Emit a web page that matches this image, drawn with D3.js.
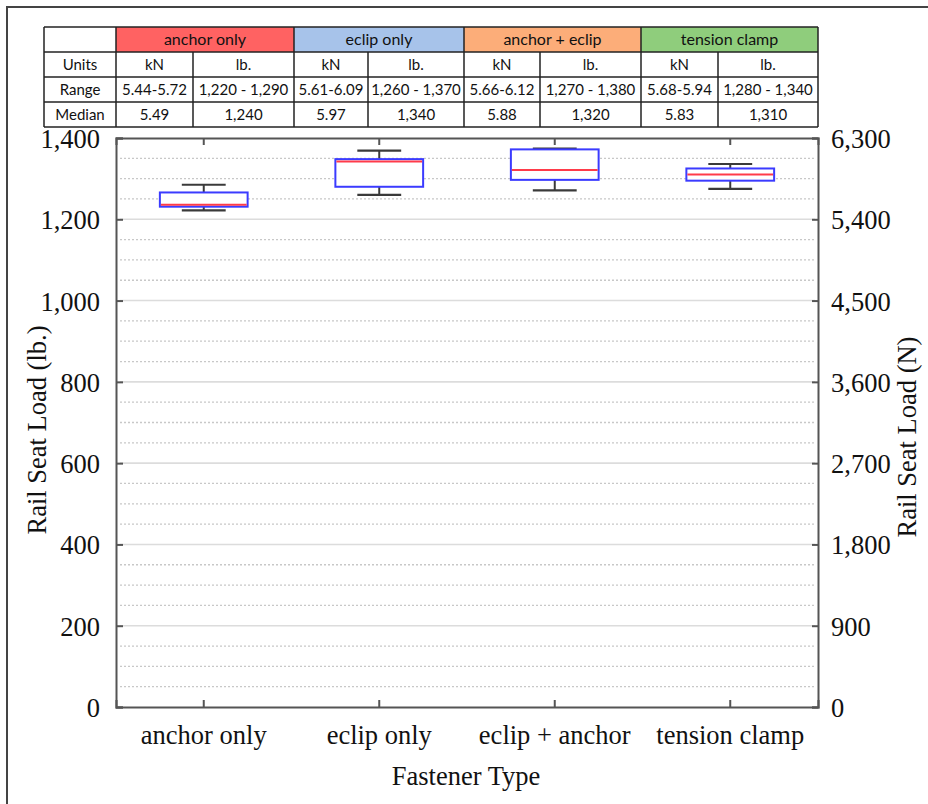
<!DOCTYPE html>
<html>
<head>
<meta charset="utf-8">
<script src="https://cdn.jsdelivr.net/npm/d3@7"></script>
<style>
  body { margin: 0; background: #fff; }
  svg { display: block; }
</style>
</head>
<body>
<svg id="chart" width="928" height="804"></svg>
<script>
// ---------- data ----------
const categories = ["anchor only", "eclip only", "eclip + anchor", "tension clamp"];
const whiskerLow  = [1222, 1260, 1271, 1275];
const q1          = [1231, 1280, 1297, 1295];
const median      = [1236, 1342, 1321, 1310];
const q3          = [1266, 1348, 1372, 1325];
const whiskerHigh = [1285, 1369, 1374, 1336];

const leftTicks  = [0, 200, 400, 600, 800, 1000, 1200, 1400];
const minorTicks = [50, 100, 150, 250, 300, 350, 450, 500, 550, 650, 700, 750, 850, 900, 950, 1050, 1100, 1150, 1250, 1300, 1350];
const rightTicks = [0, 900, 1800, 2700, 3600, 4500, 5400, 6300];

const tableGroups = ["anchor only", "eclip only", "anchor + eclip", "tension clamp"];
const groupColors = ["#ff6262", "#a7c3ea", "#fcad79", "#8fcd7c"];
const unitLabels  = ["kN", "lb."];
const rangeKN     = ["5.44-5.72", "5.61-6.09", "5.66-6.12", "5.68-5.94"];
const rangeLb     = ["1,220 - 1,290", "1,260 - 1,370", "1,270 - 1,380", "1,280 - 1,340"];
const medianKN    = ["5.49", "5.97", "5.88", "5.83"];
const medianLb    = ["1,240", "1,340", "1,320", "1,310"];

// ---------- layout ----------
const svg = d3.select("#chart");
const L = 116, R = 818, T = 138, B = 707;
const serif = "'Liberation Serif', 'Times New Roman', serif";
const sans = "Lato, 'Open Sans', sans-serif";
const serifSize = "26.5px";

// outer frame
svg.append("rect").attr("x", 7).attr("y", 7).attr("width", 940).attr("height", 820)
  .attr("fill", "none").attr("stroke", "#444").attr("stroke-width", 2);

const x = d3.scaleBand().domain(categories).range([L, R]).padding(0);
const yLb = d3.scaleLinear().domain([0, 1400]).range([B, T]);
const yN = d3.scaleLinear().domain([0, 6300]).range([B, T]);

// gridlines
svg.append("g").selectAll("line").data(minorTicks).join("line")
  .attr("x1", L + 4).attr("x2", R - 3)
  .attr("y1", d => yLb(d)).attr("y2", d => yLb(d))
  .attr("stroke", "#c8c8c8").attr("stroke-width", 1.3).attr("stroke-dasharray", "2,2");
svg.append("g").selectAll("line").data(leftTicks.filter(d => d > 0 && d < 1400)).join("line")
  .attr("x1", L + 4).attr("x2", R - 3)
  .attr("y1", d => yLb(d)).attr("y2", d => yLb(d))
  .attr("stroke", "#dcdcdc").attr("stroke-width", 1.6);

// axes
const axisColor = "#555";
const gL = svg.append("g").attr("transform", `translate(${L},0)`)
  .call(d3.axisLeft(yLb).tickValues(leftTicks).tickSize(-7).tickPadding(16).tickFormat(d3.format(",")));
const gR = svg.append("g").attr("transform", `translate(${R},0)`)
  .call(d3.axisRight(yN).tickValues(rightTicks).tickSize(-6).tickPadding(13).tickFormat(d3.format(",")));
const gB = svg.append("g").attr("transform", `translate(0,${B})`)
  .call(d3.axisBottom(x).tickSize(-7).tickPadding(30));
const gT = svg.append("g").attr("transform", `translate(0,${T})`)
  .call(d3.axisTop(x).tickSize(-7).tickFormat(""));

[gL, gR, gB, gT].forEach(g => {
  g.select(".domain").attr("stroke", axisColor).attr("stroke-width", 2);
  g.selectAll(".tick line").attr("stroke", axisColor).attr("stroke-width", 2);
  g.selectAll(".tick text").attr("fill", "#111").style("font-family", serif).style("font-size", serifSize);
});
gL.selectAll(".tick text").attr("dy", "0.36em");
gR.selectAll(".tick text").attr("dy", "0.36em");
gB.selectAll(".tick text").attr("dy", "0.25em");

// axis titles
svg.append("text").attr("transform", `translate(46,430) rotate(-90)`)
  .attr("text-anchor", "middle").style("font-family", serif).style("font-size", serifSize).attr("fill", "#111")
  .text("Rail Seat Load (lb.)");
svg.append("text").attr("transform", `translate(916,437) rotate(-90)`)
  .attr("text-anchor", "middle").style("font-family", serif).style("font-size", serifSize).attr("fill", "#111")
  .text("Rail Seat Load (N)");
svg.append("text").attr("x", 466).attr("y", 785)
  .attr("text-anchor", "middle").style("font-family", serif).style("font-size", serifSize).attr("fill", "#111")
  .text("Fastener Type");

// boxes
const bw = x.bandwidth();
const boxW = bw * 0.5, capW = bw * 0.25;
const gBox = svg.append("g");
const whiskColor = "#3a3a3a";
categories.forEach((c, i) => {
  const cx = x(c) + bw / 2;
  const g = gBox.append("g");
  // whiskers
  g.append("line").attr("x1", cx).attr("x2", cx).attr("y1", yLb(whiskerHigh[i])).attr("y2", yLb(q3[i]))
    .attr("stroke", whiskColor).attr("stroke-width", 2);
  g.append("line").attr("x1", cx).attr("x2", cx).attr("y1", yLb(q1[i])).attr("y2", yLb(whiskerLow[i]))
    .attr("stroke", whiskColor).attr("stroke-width", 2);
  g.append("line").attr("x1", cx - capW / 2).attr("x2", cx + capW / 2)
    .attr("y1", yLb(whiskerHigh[i])).attr("y2", yLb(whiskerHigh[i])).attr("stroke", whiskColor).attr("stroke-width", 2.2);
  g.append("line").attr("x1", cx - capW / 2).attr("x2", cx + capW / 2)
    .attr("y1", yLb(whiskerLow[i])).attr("y2", yLb(whiskerLow[i])).attr("stroke", whiskColor).attr("stroke-width", 2.2);
  // box
  g.append("rect").attr("x", cx - boxW / 2).attr("width", boxW)
    .attr("y", yLb(q3[i])).attr("height", yLb(q1[i]) - yLb(q3[i]))
    .attr("fill", "#fff").attr("stroke", "#3b3bff").attr("stroke-width", 2);
  // median
  g.append("line").attr("x1", cx - boxW / 2 + 1).attr("x2", cx + boxW / 2 - 1)
    .attr("y1", yLb(median[i])).attr("y2", yLb(median[i]))
    .attr("stroke", "#ff3b4a").attr("stroke-width", 2);
});

// ---------- table ----------
const colX = [44, 116, 193, 294, 368, 464, 540, 641, 718, 818];
const rowY = [27, 52, 77, 102, 127];
const gTab = svg.append("g");
// header fills
tableGroups.forEach((gname, i) => {
  gTab.append("rect").attr("x", colX[1 + 2 * i]).attr("y", rowY[0])
    .attr("width", colX[3 + 2 * i] - colX[1 + 2 * i]).attr("height", rowY[1] - rowY[0])
    .attr("fill", groupColors[i]);
  gTab.append("text").attr("x", (colX[1 + 2 * i] + colX[3 + 2 * i]) / 2).attr("y", (rowY[0] + rowY[1]) / 2)
    .attr("dy", "0.36em").attr("text-anchor", "middle")
    .style("font-family", sans).style("font-size", "16px").attr("fill", "#111").text(gname);
});
const rows = [
  ["Units"].concat(tableGroups.flatMap(() => unitLabels)),
  ["Range"].concat(tableGroups.flatMap((g, i) => [rangeKN[i], rangeLb[i]])),
  ["Median"].concat(tableGroups.flatMap((g, i) => [medianKN[i], medianLb[i]]))
];
rows.forEach((r, ri) => {
  r.forEach((txt, ci) => {
    gTab.append("text").attr("x", (colX[ci] + colX[ci + 1]) / 2).attr("y", (rowY[ri + 1] + rowY[ri + 2]) / 2)
      .attr("dy", "0.36em").attr("text-anchor", "middle")
      .style("font-family", sans).style("font-size", "15px").attr("fill", "#111").text(txt);
  });
});
// grid lines of table
rowY.forEach(yv => {
  gTab.append("line").attr("x1", colX[0]).attr("x2", colX[colX.length - 1]).attr("y1", yv).attr("y2", yv)
    .attr("stroke", "#222").attr("stroke-width", 1.5);
});
colX.forEach((xv, i) => {
  const inner = (i === 2 || i === 4 || i === 6 || i === 8);
  gTab.append("line").attr("x1", xv).attr("x2", xv)
    .attr("y1", inner ? rowY[1] : rowY[0]).attr("y2", rowY[4])
    .attr("stroke", "#222").attr("stroke-width", 1.5);
});
</script>
</body>
</html>
